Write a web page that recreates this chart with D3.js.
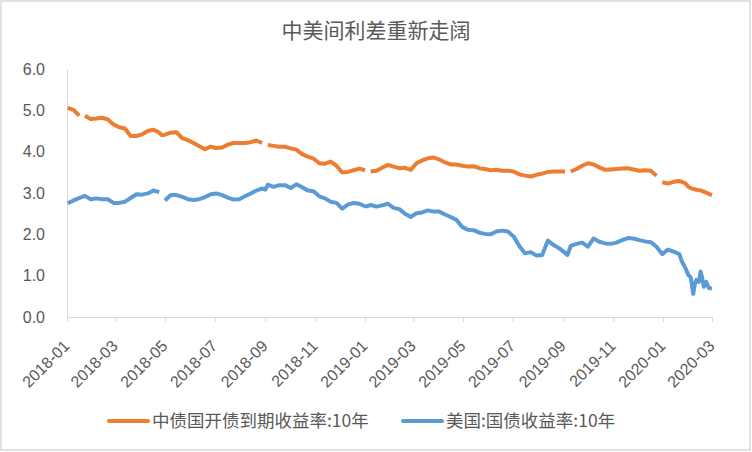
<!DOCTYPE html>
<html><head><meta charset="utf-8">
<script src="https://cdn.jsdelivr.net/npm/d3@7"></script>
<style>
body{margin:0;background:#fff;}
text{font-family:"Noto Sans CJK SC","Liberation Sans",sans-serif;fill:#595959;}
</style></head>
<body><svg id="c" width="752" height="452"></svg>
<script>
const title = "中美间利差重新走阔";
const seriesNames = ["中债国开债到期收益率:10年","美国:国债收益率:10年"];
const dates = [
"2018-01-02","2018-01-09","2018-01-16","2018-01-19","2018-01-23","2018-01-30",
"2018-02-06","2018-02-13","2018-02-20","2018-02-27",
"2018-03-06","2018-03-13","2018-03-20","2018-03-27",
"2018-04-03","2018-04-10","2018-04-17","2018-04-24","2018-04-27",
"2018-05-01","2018-05-08","2018-05-15","2018-05-22","2018-05-29",
"2018-06-05","2018-06-12","2018-06-19","2018-06-26",
"2018-07-03","2018-07-10","2018-07-17","2018-07-24","2018-07-31",
"2018-08-07","2018-08-14","2018-08-21","2018-08-28","2018-09-01",
"2018-09-04","2018-09-11","2018-09-18","2018-09-25",
"2018-10-02","2018-10-09","2018-10-16","2018-10-23","2018-10-30",
"2018-11-06","2018-11-13","2018-11-20","2018-11-27",
"2018-12-04","2018-12-11","2018-12-18","2018-12-25",
"2019-01-01","2019-01-04","2019-01-08","2019-01-15","2019-01-22","2019-01-29",
"2019-02-05","2019-02-12","2019-02-19","2019-02-26",
"2019-03-05","2019-03-12","2019-03-19","2019-03-26",
"2019-04-02","2019-04-09","2019-04-16","2019-04-23","2019-04-30",
"2019-05-07","2019-05-14","2019-05-21","2019-05-28",
"2019-06-04","2019-06-11","2019-06-18","2019-06-25",
"2019-07-02","2019-07-09","2019-07-16","2019-07-23","2019-07-30",
"2019-08-06","2019-08-13","2019-08-20","2019-08-27",
"2019-09-03","2019-09-06","2019-09-10","2019-09-17","2019-09-24",
"2019-10-01","2019-10-08","2019-10-15","2019-10-22","2019-10-29",
"2019-11-05","2019-11-12","2019-11-19","2019-11-26",
"2019-12-03","2019-12-10","2019-12-17","2019-12-24","2019-12-28","2019-12-31",
"2020-01-07","2020-01-14","2020-01-21","2020-01-24","2020-01-28",
"2020-02-01","2020-02-04","2020-02-07","2020-02-09","2020-02-11","2020-02-14","2020-02-16","2020-02-18","2020-02-20","2020-02-23","2020-02-26","2020-03-01"
];
const cdbYield = [
5.06,5.01,4.87,null,4.87,4.79,
4.80,4.82,4.78,4.66,
4.59,4.56,4.38,4.38,
4.42,4.50,4.53,4.46,4.40,
4.41,4.46,4.47,4.33,4.28,
4.21,4.13,4.06,4.12,
4.09,4.10,4.17,4.21,4.21,
4.21,4.23,4.27,4.21,null,
4.16,4.14,4.12,4.12,
4.08,4.05,3.94,3.88,3.83,
3.72,3.71,3.76,3.66,
3.50,3.51,3.55,3.59,
3.55,null,3.52,3.54,3.61,3.68,
3.64,3.60,3.61,3.56,
3.72,3.79,3.84,3.86,
3.81,3.74,3.69,3.69,3.66,
3.64,3.65,3.60,3.58,
3.55,3.56,3.54,3.54,
3.52,3.45,3.42,3.40,3.44,
3.47,3.51,3.52,3.52,
3.52,null,3.52,3.58,3.66,
3.72,3.69,3.62,3.56,3.57,
3.58,3.59,3.60,3.57,
3.54,3.55,3.54,3.42,null,3.26,
3.23,3.27,3.29,3.27,3.24,
3.15,3.12,3.10,3.09,3.08,3.07,3.06,3.05,3.03,3.01,2.98,2.95
];
const ustYield = [
2.75,2.82,2.88,2.90,2.93,2.85,
2.87,2.85,2.85,2.76,
2.76,2.79,2.88,2.97,
2.96,2.99,3.06,3.02,null,
2.82,2.95,2.95,2.91,2.85,
2.83,2.85,2.90,2.97,
2.99,2.95,2.89,2.84,2.85,
2.92,2.99,3.06,3.11,3.08,
3.20,3.15,3.19,3.19,
3.12,3.21,3.14,3.06,3.04,
2.92,2.87,2.79,2.76,
2.62,2.72,2.76,2.74,
2.68,2.68,2.71,2.67,2.70,2.74,
2.64,2.61,2.50,2.42,
2.51,2.53,2.58,2.55,
2.55,2.48,2.42,2.35,2.18,
2.11,2.10,2.04,2.01,
2.00,2.07,2.09,2.07,
1.95,1.72,1.54,1.57,1.49,
1.50,1.85,1.74,1.66,
1.55,1.50,1.72,1.77,1.80,
1.70,1.90,1.82,1.78,1.77,
1.80,1.86,1.91,1.90,
1.86,1.83,1.81,1.70,1.60,1.52,
1.63,1.58,1.52,1.35,1.20,
1.02,0.96,0.56,0.80,0.90,0.85,1.10,0.95,0.73,0.85,0.70,0.69
];
const yTicks = [0,1,2,3,4,5,6];
const xTickLabels = ["2018-01","2018-03","2018-05","2018-07","2018-09","2018-11","2019-01","2019-03","2019-05","2019-07","2019-09","2019-11","2020-01","2020-03"];
const colors = ["#ED7D31","#5B9BD5"];

const svg = d3.select("#c");
svg.append("rect").attr("x",1).attr("y",1).attr("width",749).attr("height",449)
  .attr("fill","#fff").attr("stroke","#d9d9d9").attr("stroke-width",1.5);

const parse = d3.timeParse("%Y-%m-%d");
const parseM = d3.timeParse("%Y-%m");
const x = d3.scaleTime().domain([parseM("2018-01"), parseM("2020-03")]).range([67,712]);
const y = d3.scaleLinear().domain([0,6]).range([317,69]);

svg.append("text").attr("x",376).attr("y",38).attr("text-anchor","middle")
  .style("font-size","21px").text(title);

// y axis
const gy = svg.append("g").attr("transform","translate(67,0)")
  .call(d3.axisLeft(y).tickValues(yTicks).tickFormat(d3.format(".1f")).tickSize(0).tickPadding(22));
gy.select(".domain").attr("stroke","#d9d9d9");
gy.selectAll("text").style("font-size","16px").style("font-family","'Liberation Sans',sans-serif").attr("fill","#595959");

// x axis
const gx = svg.append("g").attr("transform","translate(0,317)")
  .call(d3.axisBottom(x).tickValues(xTickLabels.map(parseM)).tickFormat(d3.timeFormat("%Y-%m")).tickSize(5).tickSizeOuter(0));
gx.select(".domain").attr("stroke","#d9d9d9");
gx.selectAll(".tick line").attr("stroke","#d9d9d9");
gx.selectAll("text").style("font-size","16px").style("font-family","'Liberation Sans',sans-serif").attr("fill","#595959")
  .attr("text-anchor","end").attr("dy",0).attr("y",0)
  .attr("transform","translate(3,30) rotate(-45)");

const rows = dates.map((d,i)=>({date:parse(d), a:cdbYield[i], b:ustYield[i]}));
[["a",0],["b",1]].forEach(([k,i])=>{
  const line = d3.line().defined(d=>d[k]!=null).x(d=>x(d.date)).y(d=>y(d[k]));
  svg.append("path").datum(rows).attr("d",line).attr("fill","none")
    .attr("stroke",colors[i]).attr("stroke-width",4)
    .attr("stroke-linejoin","round").attr("stroke-linecap","butt");
});

// legend
const lg = [[109,152],[403,446]];
seriesNames.forEach((n,i)=>{
  svg.append("line").attr("x1",lg[i][0]).attr("x2",lg[i][0]+39).attr("y1",421).attr("y2",421)
    .attr("stroke",colors[i]).attr("stroke-width",4).attr("stroke-linecap","round");
  svg.append("text").attr("x",lg[i][1]).attr("y",421).attr("dy","0.35em")
    .style("font-size","17.5px").text(n);
});
</script></body></html>
